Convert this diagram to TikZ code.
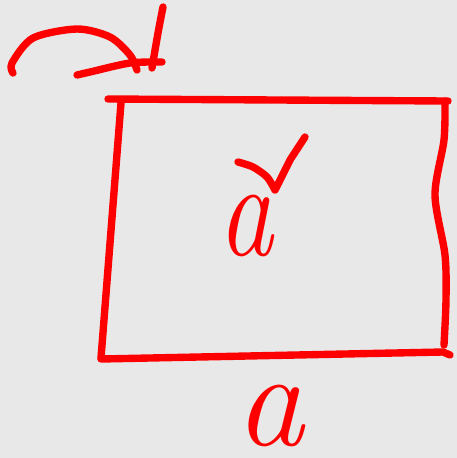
\documentclass[tikz,border=0pt]{standalone}
\usepackage{tikz}
\definecolor{pen}{HTML}{FF0000}
\definecolor{paper}{HTML}{E8E8E8}

\begin{document}
\begin{tikzpicture}[x=0.02cm,y=-0.02cm,
    ink/.style={pen,line width=4.2pt,line cap=round,line join=round},
    hand/.style={pen,inner sep=0pt,font=\fontsize{78}{78}\selectfont\itshape}]
  \fill[paper] (0,0) rectangle (457,458);
  \useasboundingbox (0,0) rectangle (457,458);
  % curved arrow to the corner
  \draw[ink] plot[smooth] coordinates {(13,73) (12,63) (33,38) (77,29) (110,37) (130,55) (137,70)};
  \draw[ink] plot[smooth] coordinates {(77,75) (90,72) (130,63) (162,62)};
  \draw[ink] plot[smooth] coordinates {(163,7) (158,33) (152,68)};
  % square
  \draw[ink] (108,99) -- (448,101);
  \draw[ink] (121,103) -- (101,358);
  \draw[ink] (101,359) -- (443,352) -- (450,355);
  \draw[ink] plot[smooth] coordinates {(445,101) (444,140) (435,195) (445,255) (446,300) (444,345)};
  % labels
  \node[hand,xscale=0.8] (area) at (246,226) {a};
  \node[hand] (side) at (270,416) {a};
  \draw[ink] plot[smooth] coordinates {(238,162) (253,167) (267,177) (275,190)}
    -- (290,160) -- (305,137);
\end{tikzpicture}
\end{document}
